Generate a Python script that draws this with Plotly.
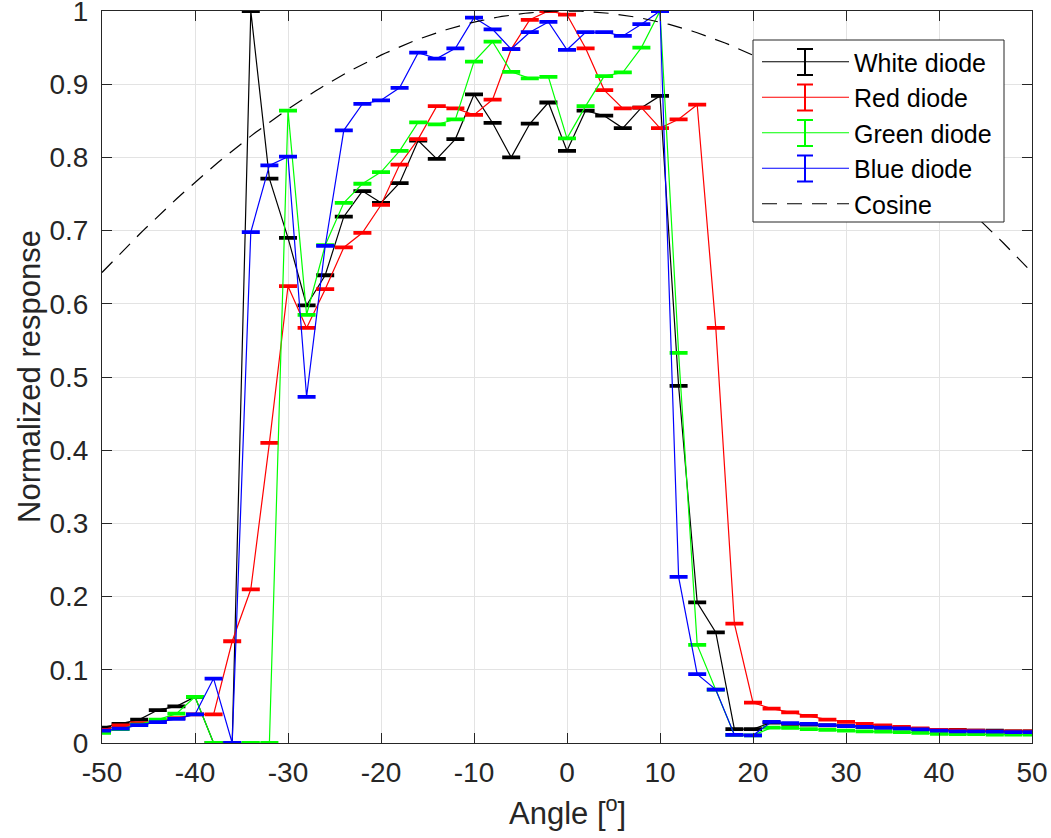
import numpy as np
import plotly.graph_objects as go

angles = list(range(-50, 51, 2))

white = [0.021, 0.026, 0.032, 0.045, 0.050, 0.063, 0.0, 0.0, 1.0, 0.771,
         0.690, 0.598, 0.639, 0.719, 0.754, 0.738, 0.765, 0.823, 0.798, 0.825,
         0.886, 0.847, 0.800, 0.846, 0.875, 0.809, 0.864, 0.857, 0.840, 0.868,
         0.884, 0.488, 0.192, 0.151, 0.019, 0.019, 0.028, 0.026, 0.025, 0.024,
         0.023, 0.022, 0.021, 0.020, 0.019, 0.018, 0.018, 0.017, 0.017, 0.016, 0.016]

red = [0.018, 0.024, 0.027, 0.029, 0.034, 0.039, 0.039, 0.139, 0.210, 0.410,
       0.624, 0.567, 0.620, 0.677, 0.697, 0.735, 0.790, 0.825, 0.870, 0.867,
       0.858, 0.879, 0.948, 0.988, 1.000, 0.995, 0.949, 0.892, 0.867, 0.868,
       0.840, 0.852, 0.872, 0.567, 0.163, 0.055, 0.047, 0.042, 0.037, 0.032,
       0.029, 0.026, 0.024, 0.022, 0.020, 0.018, 0.0175, 0.017, 0.016, 0.016, 0.016]

green = [0.014, 0.019, 0.025, 0.032, 0.040, 0.063, 0.0, 0.0, 0.0, 0.0,
         0.864, 0.585, 0.680, 0.738, 0.764, 0.780, 0.809, 0.848, 0.845, 0.852,
         0.931, 0.958, 0.917, 0.908, 0.910, 0.826, 0.870, 0.911, 0.916, 0.950,
         1.000, 0.533, 0.134, 0.073, 0.011, 0.0105, 0.021, 0.0205, 0.019, 0.018,
         0.017, 0.016, 0.0155, 0.015, 0.014, 0.0125, 0.012, 0.012, 0.0115, 0.0115, 0.0115]

blue = [0.017, 0.0195, 0.0245, 0.0285, 0.033, 0.039, 0.088, 0.0, 0.698, 0.789,
        0.801, 0.473, 0.679, 0.837, 0.873, 0.878, 0.895, 0.943, 0.935, 0.949,
        0.991, 0.975, 0.948, 0.971, 0.985, 0.947, 0.971, 0.971, 0.966, 0.982,
        1.000, 0.227, 0.094, 0.073, 0.011, 0.0105, 0.029, 0.027, 0.026, 0.0245,
        0.023, 0.022, 0.021, 0.020, 0.0185, 0.017, 0.016, 0.0158, 0.0155, 0.015, 0.015]

err = 0.0012

cos_angles = np.arange(-50, 50.5, 0.5)
cosine = np.cos(np.deg2rad(cos_angles))

x_ticks = list(range(-50, 51, 10))
x_tick_text = [str(v) for v in x_ticks]
y_ticks = [i / 10 for i in range(11)]
y_tick_text = ["0", "0.1", "0.2", "0.3", "0.4", "0.5", "0.6", "0.7", "0.8", "0.9", "1"]

series = [
    ("White diode", white, "#000000"),
    ("Red diode", red, "#ff0000"),
    ("Green diode", green, "#00ff00"),
    ("Blue diode", blue, "#0000ff"),
]

# figure geometry (pixels)
W, H = 1051, 838
ML, MR, MT, MB = 102, 19, 11, 95
PW, PH = W - ML - MR, H - MT - MB


def px(xp):
    return (xp - ML) / PW


def py(yp):
    return (H - MB - yp) / PH


fig = go.Figure()
for i, (name, vals, col) in enumerate(series):
    fig.add_trace(go.Scatter(
        x=angles, y=vals, name=name, mode="lines",
        line=dict(color=col, width=1.2),
        error_y=dict(type="constant", value=err, color=col, thickness=2, width=9),
        legendgroup="g%d" % i,
    ))

fig.add_trace(go.Scatter(
    x=cos_angles, y=cosine, name="Cosine", mode="lines",
    line=dict(color="#000000", width=1.2, dash="15px,10px"),
    legendgroup="g9",
))

font_family = "Liberation Sans, Arial, sans-serif"
axis_col = "#262626"

# legend box + error-bar glyphs
shapes = [dict(type="rect", xref="paper", yref="paper",
               x0=px(753), x1=px(1004), y0=py(222), y1=py(40),
               fillcolor="white", line=dict(color=axis_col, width=1), layer="above")]
leg_top = 62
leg_step = 35.5
sym_x = 805
for i, (name, vals, col) in enumerate(series):
    cy = leg_top + i * leg_step
    shapes.append(dict(type="line", xref="paper", yref="paper",
                       x0=px(sym_x), x1=px(sym_x), y0=py(cy - 13), y1=py(cy + 13),
                       line=dict(color=col, width=2), layer="above"))
    for dy in (-13, 13):
        shapes.append(dict(type="line", xref="paper", yref="paper",
                           x0=px(sym_x - 8), x1=px(sym_x + 8), y0=py(cy + dy), y1=py(cy + dy),
                           line=dict(color=col, width=2), layer="above"))

fig.update_layout(
    width=W, height=H,
    margin=dict(l=ML, r=MR, t=MT, b=MB, autoexpand=False),
    paper_bgcolor="white", plot_bgcolor="white",
    font=dict(family=font_family, size=28, color=axis_col),
    showlegend=True,
    legend=dict(
        x=px(757), y=py(39), xanchor="left", yanchor="top",
        bgcolor="rgba(0,0,0,0)", borderwidth=0,
        font=dict(family=font_family, size=25, color="#000000"),
        itemwidth=87, tracegroupgap=0, traceorder="grouped",
    ),
    xaxis=dict(
        range=[-50, 50], tickvals=x_ticks, ticktext=x_tick_text,
        showgrid=True, gridcolor="#e3e3e3", gridwidth=1,
        zeroline=False, showline=True, linecolor=axis_col, linewidth=1,
        mirror="ticks", ticks="inside", ticklen=10, tickcolor=axis_col,
        tickfont=dict(size=28, color=axis_col), ticklabelstandoff=4,
        ticklabeloverflow="allow", automargin=False,
    ),
    yaxis=dict(
        range=[0, 1], tickvals=y_ticks, ticktext=y_tick_text,
        showgrid=True, gridcolor="#e3e3e3", gridwidth=1,
        zeroline=False, showline=True, linecolor=axis_col, linewidth=1,
        mirror="ticks", ticks="inside", ticklen=10, tickcolor=axis_col,
        tickfont=dict(size=28, color=axis_col), ticklabelstandoff=7,
        ticklabeloverflow="allow", automargin=False,
    ),
    shapes=shapes,
    annotations=[
        dict(text="Angle [<sup>o</sup>]", xref="paper", yref="paper",
             x=0.5, y=py(811), xanchor="center", yanchor="middle",
             showarrow=False, font=dict(size=31, color=axis_col)),
        dict(text="Normalized response", xref="paper", yref="paper",
             x=px(29), y=0.5, xanchor="center", yanchor="middle", textangle=-90,
             showarrow=False, font=dict(size=31, color=axis_col)),
    ],
)

fig.write_html("out.html")
